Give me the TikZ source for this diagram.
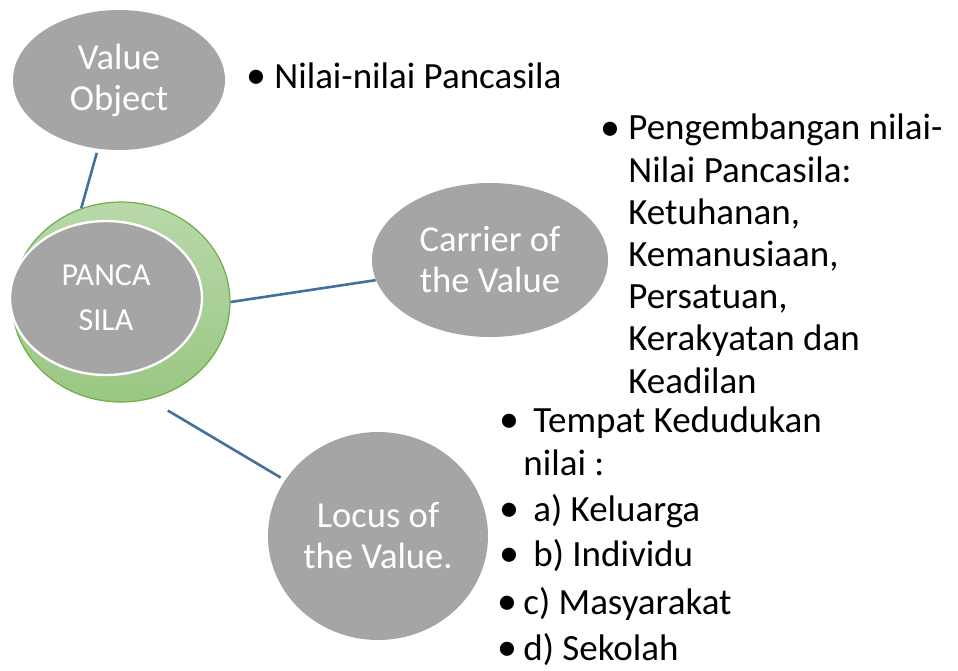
\documentclass[tikz,border=0pt]{standalone}
\usepackage{fontspec}
\setmainfont{Carlito}
\usetikzlibrary{shapes.geometric}
\definecolor{nodegray}{RGB}{165,165,165}
\definecolor{linkblue}{RGB}{65,113,156}
\definecolor{ringtop}{RGB}{184,216,169}
\definecolor{ringbot}{RGB}{154,199,131}
\definecolor{ringline}{RGB}{112,173,71}

\begin{document}
\begin{tikzpicture}[x=0.5pt, y=-0.5pt, val/.style={ellipse, fill=nodegray, inner sep=0pt, text=white, align=center, font=\fontsize{18.3}{20.5}\selectfont}, lst/.style={anchor=base west, inner sep=0pt, align=left, font=\fontsize{18.5}{21.1}\selectfont}, dot/.style={anchor=base, inner sep=0pt, font=\fontsize{20}{21}\selectfont}, link/.style={draw=linkblue, line width=1.3pt}]
\useasboundingbox (0,0) rectangle (958,670);
\node[ellipse, minimum width=109pt, minimum height=100pt, draw=ringline, line width=0.6pt, top color=ringtop, bottom color=ringbot] (pc) at (121,302) {};
\node[val, minimum width=96pt, minimum height=77pt, draw=white, line width=1.2pt, font=\fontsize{16}{22.5}\selectfont] (pcin) at (106,298) {PANCA\\SILA};
\node[val, minimum width=106pt, minimum height=70pt] (vo) at (119,80) {Value\\Object};
\node[val, minimum width=118pt, minimum height=77pt] (cv) at (490,260) {Carrier of\\the Value};
\node[val, minimum width=110pt, minimum height=104pt] (lv) at (378,536) {Locus of\\the Value.};
\draw[link, shorten <=2pt] (vo.253) -- (pc.113);
\draw[link] (pc.0) -- (cv.190);
\draw[link, shorten <=11pt, shorten >=2.4pt] (pc.-74) -- (lv.149);
% value object
\node[dot] (b1) at (256,88) {•};
\node[lst] (t1) at (274,88) {Nilai-nilai Pancasila};
% carrier
\node[dot] (b2) at (610,140) {•};
\node[lst] (t2) at (628,393) {Pengembangan nilai-\\Nilai Pancasila:\\Ketuhanan,\\Kemanusiaan,\\Persatuan,\\Kerakyatan dan\\Keadilan};
% locus
\node[dot] (b3) at (509,432) {•};
\node[lst, font=\fontsize{18.5}{21.5}\selectfont] (t3) at (523,475) {\hspace*{5pt}Tempat Kedudukan\\nilai :};
\node[dot] (b4) at (509,521) {•};
\node[lst] (t4) at (533,521) {a) Keluarga};
\node[dot] (b5) at (509,566) {•};
\node[lst] (t5) at (533,566) {b) Individu};
\node[dot] (b6) at (507,614) {•};
\node[lst] (t6) at (523,614) {c) Masyarakat};
\node[dot] (b7) at (507,660) {•};
\node[lst] (t7) at (523,660) {d) Sekolah};
\end{tikzpicture}
\end{document}
